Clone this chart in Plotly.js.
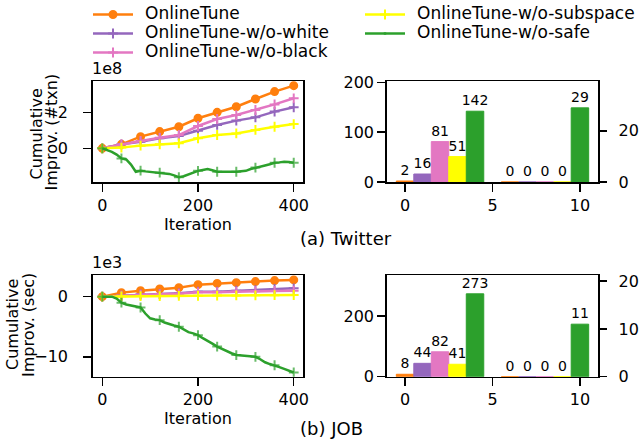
<!DOCTYPE html>
<html>
<head>
<meta charset="utf-8">
<script src="https://cdn.plot.ly/plotly-3.0.1.min.js"></script>
<style>html,body{margin:0;padding:0;background:#fff;}#chart{width:640px;height:440px;}</style>
</head>
<body>
<div id="chart"></div>
<script>
// ---------- data ----------
const seriesNames = ["OnlineTune", "OnlineTune-w/o-white", "OnlineTune-w/o-black", "OnlineTune-w/o-subspace", "OnlineTune-w/o-safe"];
const seriesColors = ["#ff7f0e", "#9467bd", "#e377c2", "#ffff00", "#2ca02c"];
const legendOf = ["legend", "legend", "legend", "legend2", "legend2"];

// iterations for the smooth curves (markers every 40)
const iterCoarse = [0, 40, 80, 120, 160, 200, 240, 280, 320, 360, 400];
// iterations for the safe curve (finer)
const iterFine = [0,10,20,30,40,50,60,70,80,90,100,110,120,130,140,150,160,170,180,190,200,
                  210,220,230,240,250,260,270,280,290,300,310,320,330,340,350,360,370,380,390,400];

// (a) Twitter, cumulative improvement in units of 1e8 txn
const twOnline   = [0, 0.22, 0.65, 0.93, 1.20, 1.67, 2.00, 2.31, 2.74, 3.15, 3.48];
const twWhite    = [0, 0.22, 0.37, 0.56, 0.69, 0.98, 1.30, 1.54, 1.72, 2.04, 2.28];
const twBlack    = [0, 0.22, 0.41, 0.59, 0.74, 1.24, 1.63, 1.85, 2.13, 2.44, 2.78];
const twSubspace = [0, 0.04, 0.15, 0.22, 0.28, 0.56, 0.74, 0.83, 1.02, 1.20, 1.35];
const twSafe = [0,-0.10,-0.20,-0.35,-0.56,-0.62,-0.90,-1.30,-1.24,-1.28,-1.30,-1.33,-1.35,-1.38,-1.42,-1.50,-1.60,-1.55,-1.45,-1.32,-1.25,
                -1.20,-1.15,-1.22,-1.30,-1.30,-1.28,-1.30,-1.30,-1.27,-1.25,-1.15,-1.07,-1.02,-0.95,-0.88,-0.80,-0.78,-0.74,-0.76,-0.80];

// (b) JOB, cumulative improvement in units of 1e3 sec
const jbOnline   = [0, 0.67, 1.00, 1.28, 1.50, 2.00, 2.20, 2.33, 2.50, 2.67, 2.78];
const jbWhite    = [0, 0.17, 0.39, 0.44, 0.56, 0.83, 0.83, 1.00, 1.10, 1.28, 1.39];
const jbBlack    = [0, 0.15, 0.35, 0.40, 0.50, 0.72, 0.75, 0.85, 0.90, 0.95, 1.00];
const jbSubspace = [0, 0.05, 0.10, 0.10, 0.12, 0.15, 0.18, 0.20, 0.22, 0.25, 0.28];
const jbSafe = [0,0,0,-0.3,-1.0,-1.3,-1.5,-1.6,-1.8,-2.8,-3.6,-3.8,-3.9,-4.3,-4.6,-4.8,-5.0,-5.5,-5.9,-6.1,-6.4,
                -6.9,-7.3,-7.8,-8.3,-8.7,-9.1,-9.4,-9.7,-9.8,-9.9,-9.95,-10.0,-10.4,-10.9,-11.2,-11.4,-11.7,-12.0,-12.3,-12.6];

// bar panels: positions of the two bar groups
const barPosLeft  = [0, 1, 2, 3, 4];
const barPosRight = [6, 7, 8, 9, 10];
const twBarLeft  = [2, 16, 81, 51, 142];
const twBarRight = [0, 0, 0, 0, 29];
const jbBarLeft  = [8, 44, 82, 41, 273];
const jbBarRight = [0, 0, 0, 0, 11];

const xTickVals = [0, 200, 400];
const barTickVals = [0, 5, 10];

// ---------- build ----------
const FONT = "DejaVu Sans";
const symbols = ["circle", "cross-thin", "cross-thin", "cross-thin", "cross-thin"];
const legendName = s => '<span style="font-size:17px">\u00a0\u200a' + s + '</span>';

function lineTraces(xa, ya, coarseSets, fine, showLegend) {
  const out = [];
  coarseSets.forEach((vals, i) => {
    out.push({
      type: "scatter", mode: "lines+markers", x: iterCoarse, y: vals, xaxis: xa, yaxis: ya,
      name: legendName(seriesNames[i]), legend: legendOf[i], showlegend: showLegend,
      line: {color: seriesColors[i], width: 2.5},
      marker: {symbol: symbols[i], size: 7, color: seriesColors[i], line: {color: seriesColors[i], width: 2}}
    });
  });
  out.push({
    type: "scatter", mode: "lines+markers", x: iterFine, y: fine, xaxis: xa, yaxis: ya,
    name: legendName(seriesNames[4]), legend: legendOf[4], showlegend: showLegend,
    line: {color: seriesColors[4], width: 2.5},
    marker: {symbol: symbols[4], size: iterFine.map(v => v % 40 === 0 ? 7 : 0), color: seriesColors[4],
             line: {color: seriesColors[4], width: 2}}
  });
  return out;
}

function barTrace(xa, ya, pos, vals) {
  return {
    type: "bar", x: pos, y: vals, xaxis: xa, yaxis: ya, width: 1, showlegend: false,
    marker: {color: seriesColors, line: {color: seriesColors, width: 1}},
    text: vals.map(String), textposition: "outside", constraintext: "none", cliponaxis: false,
    textfont: {family: FONT, size: 14, color: "#000"}
  };
}

const data = [
  ...lineTraces("x", "y", [twOnline, twWhite, twBlack, twSubspace], twSafe, true),
  barTrace("x2", "y2", barPosLeft, twBarLeft),
  barTrace("x2", "y3", barPosRight, twBarRight),
  ...lineTraces("x3", "y4", [jbOnline, jbWhite, jbBlack, jbSubspace], jbSafe, false),
  barTrace("x4", "y5", barPosLeft, jbBarLeft),
  barTrace("x4", "y6", barPosRight, jbBarRight)
];

const W = 640, H = 440;
const dx = (a, b) => [a / W, b / W];
const dy = (top, bottom) => [1 - bottom / H, 1 - top / H];

const axBase = {
  showline: true, linecolor: "#000", linewidth: 1.5, mirror: true,
  ticks: "outside", ticklen: 8, tickwidth: 1.5, tickcolor: "#000",
  showgrid: false, zeroline: false,
  tickfont: {family: FONT, size: 16, color: "#000"}
};
const xTitle = {text: "Iteration", font: {family: FONT, size: 16, color: "#000"}, standoff: 0};
const legendBase = {
  orientation: "v", y: 1, xanchor: "left", yanchor: "top", itemwidth: 40,
  font: {family: FONT, size: 12, color: "#000"}, bgcolor: "rgba(0,0,0,0)", borderwidth: 0, traceorder: "normal"
};
const txt = (s, x, y, size, extra) => Object.assign({
  text: s, xref: "paper", yref: "paper", x: x / W, y: 1 - y / H, xanchor: "center", yanchor: "middle",
  showarrow: false, font: {family: FONT, size: size, color: "#000"}
}, extra || {});

const layout = {
  width: W, height: H,
  margin: {l: 0, r: 0, t: 0, b: 0},
  paper_bgcolor: "#fff", plot_bgcolor: "#fff",
  font: {family: FONT, size: 16, color: "#000"},
  barmode: "overlay",
  showlegend: true,
  legend: Object.assign({}, legendBase, {x: 88 / W}),
  legend2: Object.assign({}, legendBase, {x: 360 / W}),
  xaxis: Object.assign({}, axBase, {domain: dx(92.7, 303.3), anchor: "y", range: [-20, 420], tickvals: xTickVals, ticklabelstandoff: 0, title: xTitle}),
  yaxis: Object.assign({}, axBase, {domain: dy(81, 182), anchor: "x", range: [-1.87, 3.74], dtick: 2, ticklabelstandoff: 12}),
  xaxis2: Object.assign({}, axBase, {domain: dx(386.7, 598.3), anchor: "y2", range: [-1.05, 11.05], tickvals: barTickVals, ticklabelstandoff: 0}),
  yaxis2: Object.assign({}, axBase, {domain: dy(81, 182), anchor: "x2", range: [0, 202.6], dtick: 100, ticklabelstandoff: 0}),
  yaxis3: Object.assign({}, axBase, {overlaying: "y2", side: "right", anchor: "x2", range: [0, 39.5], dtick: 20, showline: false, mirror: false, ticklabelstandoff: 8}),
  xaxis3: Object.assign({}, axBase, {domain: dx(92.7, 303.3), anchor: "y4", range: [-20, 420], tickvals: xTickVals, ticklabelstandoff: 0, title: xTitle}),
  yaxis4: Object.assign({}, axBase, {domain: dy(275, 376.7), anchor: "x3", range: [-13.3, 3.6], dtick: 10, ticklabelstandoff: 12}),
  xaxis4: Object.assign({}, axBase, {domain: dx(386.7, 598.3), anchor: "y5", range: [-1.05, 11.05], tickvals: barTickVals, ticklabelstandoff: 0}),
  yaxis5: Object.assign({}, axBase, {domain: dy(275, 376.7), anchor: "x4", range: [0, 335], dtick: 200, ticklabelstandoff: 0}),
  yaxis6: Object.assign({}, axBase, {overlaying: "y5", side: "right", anchor: "x4", range: [0, 21.3], dtick: 10, showline: false, mirror: false, ticklabelstandoff: 8}),
  annotations: [
    txt("Cumulative", 35.5, 134, 16, {textangle: -90}),
    txt("Improv. (#txn)", 50.5, 132, 16, {textangle: -90}),
    txt("Cumulative", 12, 325, 16, {textangle: -90}),
    txt("Improv. (sec)", 28, 325, 16, {textangle: -90}),
    txt("1e8", 107, 68, 16),
    txt("1e3", 107, 262, 16),
    txt("(a) Twitter", 298, 238, 18, {xanchor: "left"}),
    txt("(b) JOB", 298, 428.5, 18, {xanchor: "left"})
  ]
};

Plotly.newPlot("chart", data, layout, {displayModeBar: false, staticPlot: true});
</script>
</body>
</html>
